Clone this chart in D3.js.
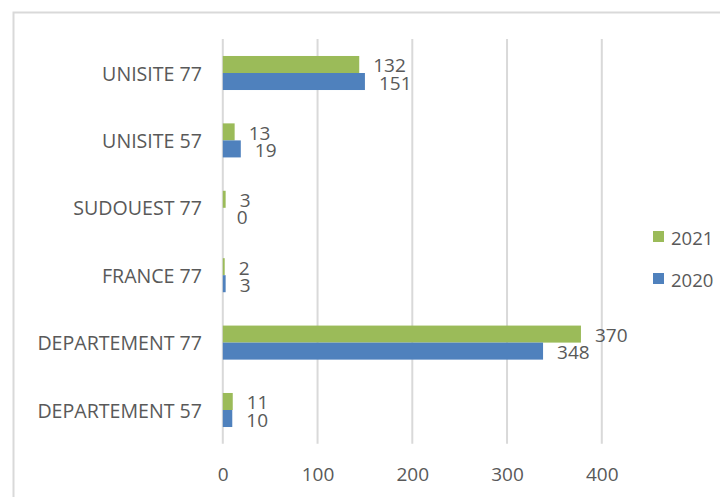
<!DOCTYPE html>
<html>
<head>
<meta charset="utf-8">
<script src="https://cdn.jsdelivr.net/npm/d3@7/dist/d3.min.js"></script>
<style>
  html, body { margin: 0; padding: 0; background: #fff; }
  svg { display: block; }
</style>
</head>
<body>
<svg id="chart" width="720" height="497"></svg>
<script>
// ---- data ----
const categories = ["UNISITE 77", "UNISITE 57", "SUDOUEST 77", "FRANCE 77", "DEPARTEMENT 77", "DEPARTEMENT 57"];
const seriesNames = ["2021", "2020"];
// bar lengths
const values2021 = [144, 12.5, 3, 2, 378, 10.5];
const values2020 = [150, 19, 0, 3, 338, 10];
// data labels as printed in the picture
const labels2021 = ["132", "13", "3", "2", "370", "11"];
const labels2020 = ["151", "19", "0", "3", "348", "10"];
const xTicks = [0, 100, 200, 300, 400];
const colors = { "2021": "#9BBB59", "2020": "#4F81BD" };

const series = [
  { name: "2021", values: values2021, labels: labels2021 },
  { name: "2020", values: values2020, labels: labels2020 }
];

const svg = d3.select("#chart");
const font = "'Open Sans', 'Noto Sans', sans-serif";
const textColor = "#595959";
const fsNum = 19;
const fsCat = 19.6;
const fsLeg = 18.5;

// outer frame (top and left edges visible)
svg.append("path")
  .attr("d", "M13.5,497 L13.5,12.5 L720,12.5")
  .attr("fill", "none").attr("stroke", "#D9D9D9").attr("stroke-width", 2);

const x = d3.scaleLinear().domain([0, 500]).range([222.8, 222.8 + 473.75]);
const y = d3.scaleBand().domain(categories).range([39.3, 443.7]).padding(0);
const ySub = d3.scaleBand().domain(seriesNames).range([0, y.bandwidth()])
  .paddingInner(0).paddingOuter(0.98);

// gridlines
svg.append("g").selectAll("line").data(xTicks).join("line")
  .attr("x1", d => x(d)).attr("x2", d => x(d))
  .attr("y1", 39).attr("y2", 443.7)
  .attr("stroke", "#D9D9D9").attr("stroke-width", 2);

// bars
const groups = svg.append("g").selectAll("g").data(series).join("g")
  .attr("fill", d => colors[d.name]);

groups.selectAll("rect")
  .data(s => categories.map((c, i) => ({ c, v: s.values[i], l: s.labels[i], s: s.name })))
  .join("rect")
  .attr("x", x(0))
  .attr("y", d => y(d.c) + ySub(d.s))
  .attr("width", d => x(d.v) - x(0))
  .attr("height", ySub.bandwidth());

// data labels
svg.append("g").selectAll("text")
  .data(series.flatMap(s => categories.map((c, i) => ({ c, v: s.values[i], l: s.labels[i], s: s.name }))))
  .join("text")
  .attr("x", d => x(d.v) + 14)
  .attr("y", d => y(d.c) + ySub(d.s) + ySub.bandwidth() / 2 + 1)
  .attr("dominant-baseline", "central")
  .attr("font-family", font).attr("font-size", fsNum).attr("fill", textColor)
  .text(d => d.l);

// x axis (tick labels only)
const xAxis = d3.axisBottom(x).tickValues(xTicks).tickSize(0).tickPadding(0);
const gx = svg.append("g").attr("transform", "translate(0,474)").call(xAxis);
gx.select(".domain").remove();
gx.selectAll("text")
  .attr("dy", null).attr("y", 0)
  .attr("dominant-baseline", "central")
  .attr("font-family", font).attr("font-size", fsNum).attr("fill", textColor);

// y axis (category labels)
const yAxis = d3.axisLeft(y).tickSize(0).tickPadding(0);
const gy = svg.append("g").attr("transform", "translate(202,0)").call(yAxis);
gy.select(".domain").remove();
gy.selectAll("text")
  .attr("dy", null).attr("x", 0)
  .attr("dominant-baseline", "central")
  .attr("font-family", font).attr("font-size", fsCat).attr("fill", textColor);

// legend
const legend = svg.append("g").selectAll("g").data(seriesNames).join("g")
  .attr("transform", (d, i) => `translate(653,${237 + i * 42})`);
legend.append("rect")
  .attr("x", 0).attr("y", -6).attr("width", 11).attr("height", 11)
  .attr("fill", d => colors[d]);
legend.append("text")
  .attr("x", 18).attr("y", 0)
  .attr("dominant-baseline", "central")
  .attr("font-family", font).attr("font-size", fsLeg).attr("fill", textColor)
  .text(d => d);
</script>
</body>
</html>
